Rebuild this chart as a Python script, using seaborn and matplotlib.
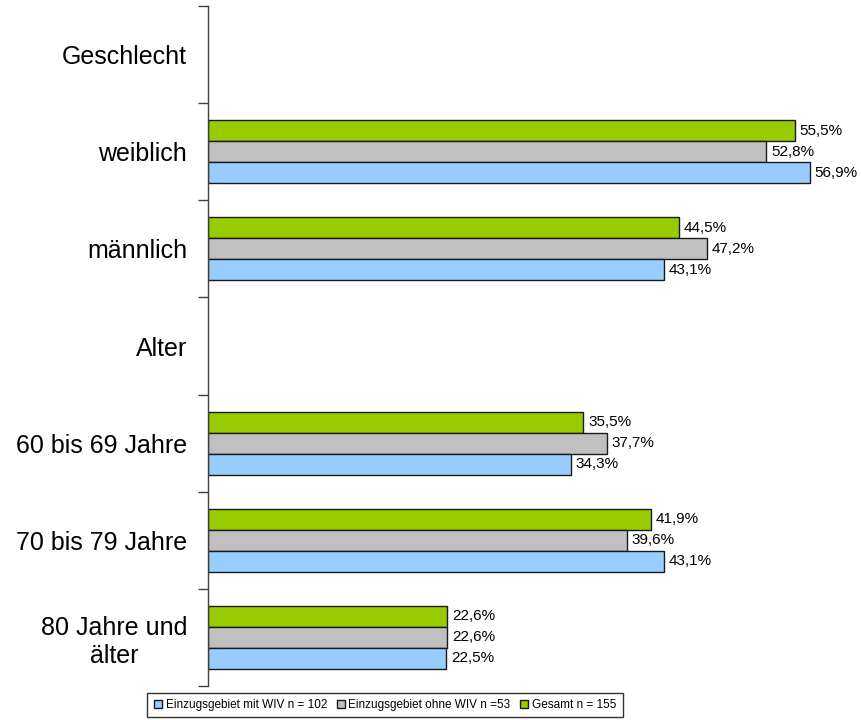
import pandas as pd
import matplotlib.pyplot as plt
import seaborn as sns

# Kategorien (Geschlecht und Alter sind Zwischenüberschriften ohne Balken)
categories = ['Geschlecht', 'weiblich', 'männlich', 'Alter',
              '60 bis 69 Jahre', '70 bis 79 Jahre', '80 Jahre und\nälter']
data_cats = ['weiblich', 'männlich', '60 bis 69 Jahre', '70 bis 79 Jahre', '80 Jahre und\nälter']

mit_wiv = [56.9, 43.1, 34.3, 43.1, 22.5]
ohne_wiv = [52.8, 47.2, 37.7, 39.6, 22.6]
gesamt = [55.5, 44.5, 35.5, 41.9, 22.6]

series_names = ['Einzugsgebiet mit WIV n = 102', 'Einzugsgebiet ohne WIV n =53', 'Gesamt n = 155']
colors = ['#99CCFF', '#C0C0C0', '#99CC00']

rows = []
for name, vals in zip(series_names, [mit_wiv, ohne_wiv, gesamt]):
    for cat, v in zip(data_cats, vals):
        rows.append({'Kategorie': cat, 'Gruppe': name, 'Anteil': v})
df = pd.DataFrame(rows)

sns.set_style('white')
plt.rcParams['font.family'] = ['Liberation Sans', 'DejaVu Sans']

fig = plt.figure(figsize=(8.62, 7.2), dpi=100)
ax = fig.add_axes([208 / 862, 34 / 720, 645 / 862, 680 / 720])

# Gesamt oben, mit WIV unten
hue_order = series_names[::-1]
sns.barplot(data=df, y='Kategorie', x='Anteil', hue='Gruppe', order=categories,
            hue_order=hue_order, palette=dict(zip(series_names, colors)),
            saturation=1, orient='h', width=0.65, edgecolor='#1a1a1a',
            linewidth=1.0, errorbar=None, ax=ax)

for cont in ax.containers:
    ax.bar_label(cont, fmt=lambda v: f"{v:.1f}%".replace('.', ','),
                 padding=3.5, fontsize=11, color='black')

ax.set_xlim(0, 61)
ax.set_ylim(len(categories) - 0.5, -0.5)
ax.set_xlabel('')
ax.set_ylabel('')
ax.set_xticks([])

# Striche an den Kategoriegrenzen, Beschriftung in der Mitte
ax.set_yticks([i - 0.5 for i in range(len(categories) + 1)])
ax.set_yticklabels([])
ax.set_yticks(range(len(categories)), minor=True)
ax.set_yticklabels(categories, minor=True, fontsize=18, color='black')
for lbl in ax.get_yticklabels(minor=True):
    lbl.set_multialignment('center')
ax.tick_params(axis='y', which='major', length=7, width=1, color='#404040', direction='out', left=True)
ax.tick_params(axis='y', which='minor', length=0, pad=15)

for s in ['top', 'right', 'bottom']:
    ax.spines[s].set_visible(False)
ax.spines['left'].set_color('#404040')
ax.spines['left'].set_linewidth(1)

handles, labels = ax.get_legend_handles_labels()
lookup = dict(zip(labels, handles))
ax.get_legend().remove()
leg = fig.legend([lookup[n] for n in series_names], series_names, loc='center',
                 bbox_to_anchor=(385 / 862, 15 / 720), ncol=3, fontsize=8.5,
                 frameon=True, fancybox=False, edgecolor='black',
                 handlelength=0.7, handleheight=0.7, handletextpad=0.3,
                 columnspacing=0.8, borderpad=0.55)
leg.get_frame().set_linewidth(1)
for t in leg.get_texts():
    t.set_color('black')

fig.savefig('out.png', dpi=100)
